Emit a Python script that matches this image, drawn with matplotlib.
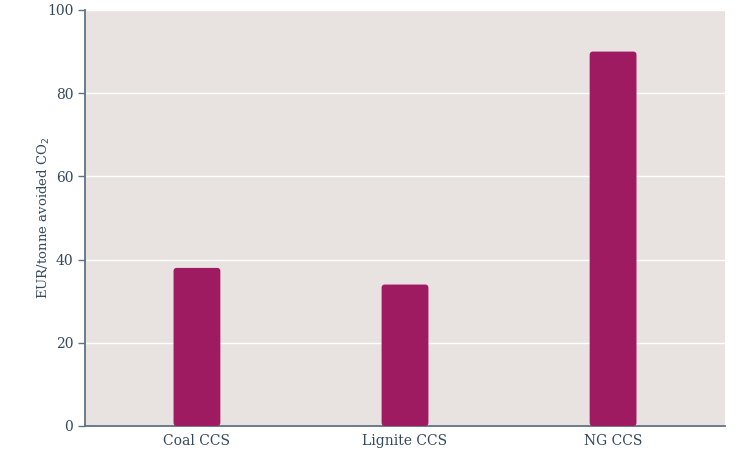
import matplotlib.pyplot as plt
from matplotlib.patches import FancyBboxPatch

# data
categories = ['Coal CCS', 'Lignite CCS', 'NG CCS']
costs = [38, 34, 90]
y_ticks = [0, 20, 40, 60, 80, 100]

bar_color = '#9E1B61'
bg_color = '#E8E3E0'
text_color = '#34495E'
spine_color = '#5F7385'

plt.rcParams['font.family'] = ['DejaVu Serif']

fig = plt.figure(figsize=(7.43, 4.58), dpi=100)
ax = fig.add_axes([0.1144, 0.0699, 0.8614, 0.9083])
ax.set_facecolor(bg_color)

x = range(len(categories))
bars = ax.bar(x, costs, width=0.225, color=bar_color, zorder=3)

# swap plain bars for slightly rounded ones
for b in bars:
    bx, by = b.get_x(), b.get_y()
    w, h = b.get_width(), b.get_height()
    b.remove()
    patch = FancyBboxPatch((bx, by), w, h,
                           boxstyle='round,pad=0,rounding_size=0.015',
                           mutation_aspect=52, facecolor=bar_color,
                           edgecolor='none', zorder=3)
    ax.add_patch(patch)

ax.set_xlim(-0.538, 2.538)
ax.set_ylim(0, 100)
ax.set_yticks(y_ticks)
ax.set_xticks(list(x))
ax.set_xticklabels(categories)

ax.grid(axis='y', color='white', linewidth=1.0, zorder=1)
ax.tick_params(axis='y', colors=spine_color, labelcolor=text_color,
               labelsize=10, length=5, width=1, direction='out')
ax.tick_params(axis='x', length=0, labelcolor=text_color, labelsize=10, pad=6)

for side in ['top', 'right']:
    ax.spines[side].set_visible(False)
for side in ['left', 'bottom']:
    ax.spines[side].set_color(spine_color)
    ax.spines[side].set_linewidth(1.3)

ax.set_ylabel('EUR/tonne avoided CO$_2$', color=text_color, fontsize=9.5)
ax.yaxis.set_label_coords(-0.052, 0.5)

fig.savefig('out.png', dpi=100)
